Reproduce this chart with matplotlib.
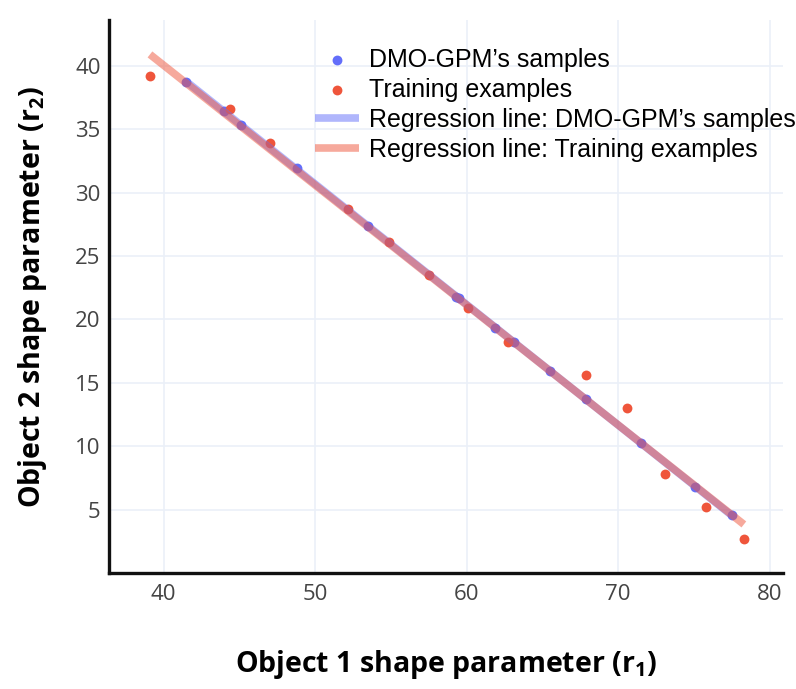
import matplotlib
matplotlib.use("Agg")
import matplotlib.pyplot as plt
import numpy as np

# DMO-GPM's samples (r1, r2)
sample_r1 = [41.5, 44.0, 45.1, 48.8, 53.5, 59.3, 59.5, 61.9, 63.1, 65.5, 67.9, 71.5, 75.1, 77.5]
sample_r2 = [38.7, 36.4, 35.3, 31.9, 27.4, 21.8, 21.7, 19.3, 18.2, 15.9, 13.7, 10.3, 6.8, 4.6]

# Training examples (r1, r2)
train_r1 = [39.1, 44.4, 47.0, 52.2, 54.9, 57.5, 60.1, 62.7, 67.9, 70.6, 73.1, 75.8, 78.3]
train_r2 = [39.2, 36.6, 33.9, 28.7, 26.1, 23.5, 20.9, 18.2, 15.6, 13.0, 7.8, 5.2, 2.7]

x_ticks = [40, 50, 60, 70, 80]
y_ticks = [5, 10, 15, 20, 25, 30, 35, 40]

blue = "#636efa"
red = "#ef553b"

plt.rcParams["mathtext.fontset"] = "custom"
plt.rcParams["mathtext.rm"] = "Open Sans"
plt.rcParams["mathtext.bf"] = "Open Sans:bold"

fig = plt.figure(figsize=(7.96, 6.89), dpi=100)
ax = fig.add_axes([0.137, 0.168, 0.847, 0.803])

ax.scatter(sample_r1, sample_r2, s=50, color=blue, linewidths=0, label="DMO-GPM\u2019s samples", zorder=3)
ax.scatter(train_r1, train_r2, s=50, color=red, linewidths=0, label="Training examples", zorder=3)

# regression lines fitted on each set
k1, b1 = np.polyfit(sample_r1, sample_r2, 1)
xs1 = np.array([min(sample_r1), max(sample_r1)])
ax.plot(xs1, k1 * xs1 + b1, color=blue, alpha=0.5, lw=5.5, solid_capstyle="butt",
        label="Regression line: DMO-GPM\u2019s samples", zorder=4)
k2, b2 = np.polyfit(train_r1, train_r2, 1)
xs2 = np.array([min(train_r1), max(train_r1)])
ax.plot(xs2, k2 * xs2 + b2, color=red, alpha=0.5, lw=5.5, solid_capstyle="butt",
        label="Regression line: Training examples", zorder=5)

ax.set_xlim(36.4, 80.9)
ax.set_ylim(0, 43.6)
ax.set_xticks(x_ticks)
ax.set_yticks(y_ticks)
ax.grid(True, color="#ebf0f8", lw=1.2)
ax.set_axisbelow(True)
ax.tick_params(length=0, labelsize=16, labelcolor="#444444")
ax.tick_params(axis="x", pad=8)
ax.tick_params(axis="y", pad=6)
for lab in ax.get_xticklabels() + ax.get_yticklabels():
    lab.set_fontfamily("Open Sans")

for side in ["top", "right"]:
    ax.spines[side].set_visible(False)
for side in ["left", "bottom"]:
    ax.spines[side].set_linewidth(2.4)
    ax.spines[side].set_color("#111111")

ax.set_xlabel("Object 1 shape parameter (r$_\\mathbf{1}$)", fontsize=20.5, fontweight="bold",
              family="Open Sans", labelpad=31)
ax.set_ylabel("Object 2 shape parameter (r$_\\mathbf{2}$)", fontsize=20.5, fontweight="bold",
              family="Open Sans", labelpad=19)

ax.legend(loc="upper left", bbox_to_anchor=(0.396, 0.931), bbox_transform=fig.transFigure,
          frameon=False, prop={"family": "Liberation Sans", "size": 18},
          borderpad=0, borderaxespad=0, handlelength=1.75, handletextpad=0.4,
          labelspacing=0.24, markerscale=1.0)

fig.savefig("out.png", dpi=100)
